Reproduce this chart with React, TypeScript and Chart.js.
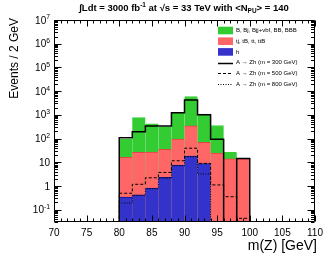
import React, { useEffect, useRef } from "react";
import { Chart, registerables } from "chart.js";
Chart.register(...registerables);

// ---- data ----
const binEdges = [80, 82, 84, 86, 88, 90, 92, 94, 96, 98, 100];
// stacked tops (events / 2 GeV)
const bkgTotal = [93, 760, 420, 310, 1200, 5900, 1070, 355, 26, 14]; // green top (B, Bj, ...)
const ttTop = [16, 26, 27, 35, 95, 340, 69, 24, 14, 14]; // red top (tj, tB, tt, ttB)
const hTop = [0.34, 0.42, 0.8, 2.3, 7.6, 18, 8.7, null, null, null]; // blue (h)
const sig300 = [107, 195, 340, 340, 1230, 4200, 1000, 93, 0.01, 14.5];
const sig500 = [0.49, 1.17, 2.2, 3.7, 11.5, 39, 8.9, 1.1, 0.35, 0.043];
const sig800 = [0.19, 0.4, 0.76, 2.1, 7.1, 17, 3.2, 0.01, 0.01, 0.01];
const xTickLabels = ["70", "75", "80", "85", "90", "95", "100", "105", "110"];
const yDecades = [-1, 0, 1, 2, 3, 4, 5, 6, 7];
const legendLabels = [
  "B, Bj, Bjj+vbf, BB, BBB",
  "tj, tB, tt, ttB",
  "h",
  "A \u2192 Zh (m = 300 GeV)",
  "A \u2192 Zh (m = 500 GeV)",
  "A \u2192 Zh (m = 800 GeV)",
];

const X_MIN = 70, X_MAX = 110, Y_MIN = 0.03, Y_MAX = 1e7, FLOOR = 0.01;
const GREEN = "rgb(51,204,51)";
const RED = "rgb(255,102,102)";
const BLUE = "rgb(51,51,204)";
const FONT = '"Liberation Sans", Arial, Helvetica, sans-serif';

const centers = binEdges.slice(0, -1).map((e, i) => (e + binEdges[i + 1]) / 2);
const barData = (vals: (number | null)[]) =>
  vals.map((v, i) => ({ x: centers[i], y: v }));
const stepData = (vals: number[]) => {
  const pts: { x: number; y: number }[] = [{ x: binEdges[0], y: FLOOR }];
  vals.forEach((v, i) => pts.push({ x: binEdges[i], y: v }));
  pts.push({ x: binEdges[binEdges.length - 1], y: FLOOR });
  return pts;
};

type Part = { t: string; k?: "sup" | "sub" };
function richWidth(ctx: CanvasRenderingContext2D, parts: Part[], size: number, weight: string) {
  let w = 0;
  for (const p of parts) {
    ctx.font = `${weight} ${p.k ? size * 0.68 : size}px ${FONT}`;
    w += ctx.measureText(p.t).width;
  }
  return w;
}
function drawRich(ctx: CanvasRenderingContext2D, parts: Part[], x: number, y: number, size: number, weight: string, align: "left" | "right" | "center") {
  const w = richWidth(ctx, parts, size, weight);
  let cx = align === "left" ? x : align === "right" ? x - w : x - w / 2;
  ctx.textAlign = "left";
  ctx.textBaseline = "alphabetic";
  for (const p of parts) {
    const s = p.k ? size * 0.68 : size;
    ctx.font = `${weight} ${s}px ${FONT}`;
    const dy = p.k === "sup" ? -size * 0.42 : p.k === "sub" ? size * 0.25 : 0;
    ctx.fillText(p.t, cx, y + dy);
    cx += ctx.measureText(p.t).width;
  }
}

const rootAxes = {
  id: "rootAxes",
  afterDraw(chart: any) {
    const { ctx, chartArea: a, scales } = chart;
    const xs = scales.x, ys = scales.y;
    ctx.save();
    ctx.fillStyle = "#000";
    ctx.strokeStyle = "#000";
    ctx.lineWidth = 1;
    const L = Math.round(a.left) + 0.5, R = Math.round(a.right) - 0.5;
    const T = Math.round(a.top) + 0.5, B = Math.round(a.bottom) - 0.5;
    ctx.beginPath();
    ctx.rect(L, T, R - L, B - T);
    // x ticks
    for (let v = X_MIN; v <= X_MAX; v += 1) {
      const len = v % 5 === 0 ? 6 : 3;
      const px = Math.round(xs.getPixelForValue(v)) + 0.5;
      ctx.moveTo(px, B); ctx.lineTo(px, B - len);
      ctx.moveTo(px, T); ctx.lineTo(px, T + len);
    }
    // y ticks
    for (let d = -2; d <= 7; d++) {
      for (let m = 1; m <= 9; m++) {
        const v = m * Math.pow(10, d);
        if (v < Y_MIN * 0.999 || v > Y_MAX * 1.001) continue;
        const len = m === 1 ? 7 : 3.5;
        const py = Math.round(ys.getPixelForValue(v)) + 0.5;
        ctx.moveTo(L, py); ctx.lineTo(L + len, py);
        ctx.moveTo(R, py); ctx.lineTo(R - len, py);
      }
    }
    ctx.stroke();

    // x labels
    ctx.font = `10px ${FONT}`;
    ctx.textAlign = "center";
    ctx.textBaseline = "middle";
    xTickLabels.forEach((lab) => {
      ctx.fillText(lab, xs.getPixelForValue(Number(lab)), a.bottom + 11);
    });
    // y labels
    yDecades.forEach((d) => {
      const py = ys.getPixelForValue(Math.pow(10, d));
      const parts: Part[] = d === 0 ? [{ t: "1" }] : d === 1 ? [{ t: "10" }] : [{ t: "10" }, { t: String(d), k: "sup" }];
      drawRich(ctx, parts, a.left - 4, py + 3.6, 10, "normal", "right");
    });

    // axis titles
    ctx.font = `14px ${FONT}`;
    ctx.textAlign = "right";
    ctx.textBaseline = "alphabetic";
    ctx.fillText("m(Z) [GeV]", a.right + 2, 250);
    ctx.save();
    ctx.font = `12px ${FONT}`;
    ctx.translate(18, 18);
    ctx.rotate(-Math.PI / 2);
    ctx.textAlign = "right";
    ctx.fillText("Events / 2 GeV", 0, 0);
    ctx.restore();

    // title
    const title: Part[] = [
      { t: "\u222B" }, { t: "Ldt = 3000 fb" }, { t: "-1", k: "sup" }, { t: " at \u221As = 33 TeV with <N" },
      { t: "PU", k: "sub" }, { t: "> = 140" },
    ];
    drawRich(ctx, title, 184, 10.5, 9.5, "bold", "center");

    // legend
    const rowY = [30.5, 41.2, 51.9, 62.6, 73.3, 84];
    const bx = 218, bw = 15;
    const boxes = [GREEN, RED, BLUE];
    const dashes = [[], [3, 2], [1, 1.5]];
    legendLabels.forEach((lab, i) => {
      const y = rowY[i];
      if (i < 3) {
        ctx.fillStyle = boxes[i];
        ctx.fillRect(bx, y - 3.8, bw, 7.6);
      } else {
        ctx.strokeStyle = "#000";
        ctx.lineWidth = i === 3 ? 1.5 : 1;
        ctx.setLineDash(dashes[i - 3]);
        ctx.beginPath();
        ctx.moveTo(bx, Math.round(y) + 0.5);
        ctx.lineTo(bx + bw, Math.round(y) + 0.5);
        ctx.stroke();
        ctx.setLineDash([]);
      }
      ctx.fillStyle = "#000";
      ctx.font = `6px ${FONT}`;
      ctx.textAlign = "left";
      ctx.textBaseline = "middle";
      ctx.fillText(lab, 236, y);
    });
    ctx.restore();
  },
};

export default function App() {
  const ref = useRef<HTMLCanvasElement | null>(null);
  useEffect(() => {
    if (!ref.current) return;
    const lineDs = (label: string, vals: number[], dash: number[], width: number) => ({
      type: "line" as const,
      label,
      data: stepData(vals),
      borderColor: "#000",
      borderWidth: width,
      borderDash: dash,
      pointRadius: 0,
      fill: false,
      stepped: "before" as const,
      tension: 0,
    });
    const barDs = (label: string, vals: (number | null)[], color: string, border: string) => ({
      type: "bar" as const,
      label,
      data: barData(vals),
      backgroundColor: color,
      borderColor: border,
      borderWidth: { top: 1, left: 0, right: 0, bottom: 0 },
      borderSkipped: false,
      grouped: false,
      barPercentage: 1,
      categoryPercentage: 1,
    });
    const chart = new Chart(ref.current, {
      type: "bar",
      data: {
        datasets: [
          lineDs(legendLabels[3], sig300, [], 1.5),
          lineDs(legendLabels[4], sig500, [3, 2], 1),
          lineDs(legendLabels[5], sig800, [1, 1.5], 1),
          barDs(legendLabels[2], hTop, BLUE, "rgb(20,20,140)"),
          barDs(legendLabels[1], ttTop, RED, "rgb(225,70,70)"),
          barDs(legendLabels[0], bkgTotal, GREEN, GREEN),
        ] as any,
      },
      options: {
        animation: false,
        responsive: false,
        devicePixelRatio: 1,
        layout: { padding: { left: 54, top: 20, right: 17, bottom: 35 } },
        plugins: { legend: { display: false }, tooltip: { enabled: false }, title: { display: false } },
        scales: {
          x: { type: "linear", min: X_MIN, max: X_MAX, offset: false, display: false, ticks: { stepSize: 5 } },
          y: { type: "logarithmic", min: Y_MIN, max: Y_MAX, display: false },
        },
      } as any,
      plugins: [rootAxes],
    });
    return () => chart.destroy();
  }, []);
  return (
    <div style={{ position: "absolute", left: 0, top: 0, width: 332, height: 257, background: "#fff" }}>
      <canvas ref={ref} width={332} height={257} style={{ display: "block" }} />
    </div>
  );
}
